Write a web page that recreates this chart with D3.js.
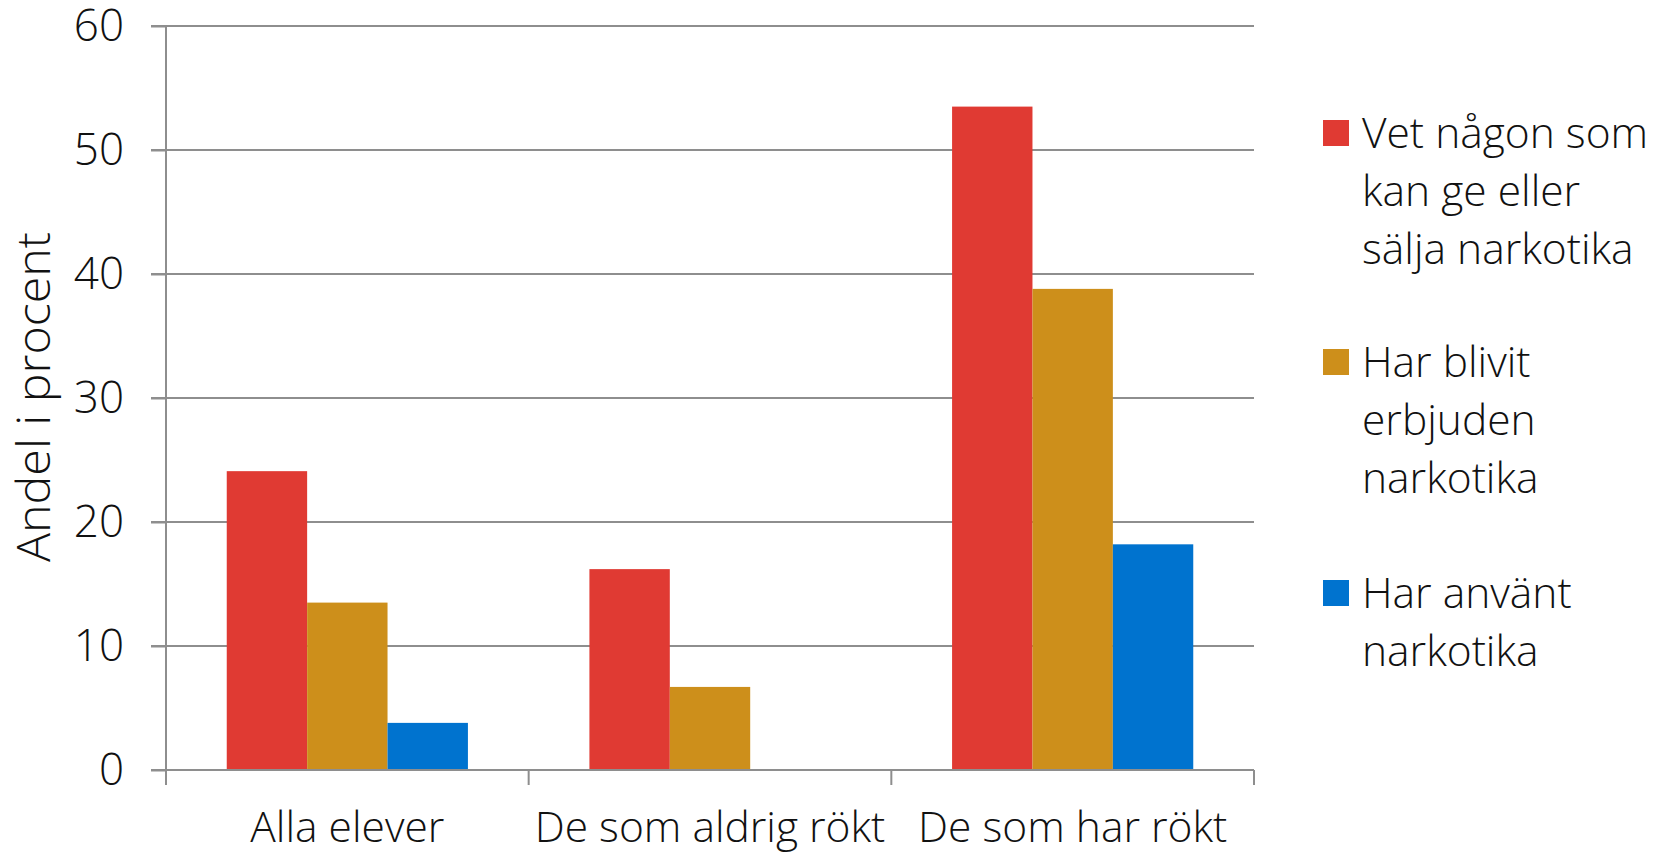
<!DOCTYPE html>
<html>
<head>
<meta charset="utf-8">
<script src="https://cdn.jsdelivr.net/npm/d3@7"></script>
<style>
  html, body { margin: 0; padding: 0; background: #fff; }
  text { font-family: "Open Sans", "Noto Sans", sans-serif; fill: #111; }
</style>
</head>
<body>
<div id="chart"></div>
<script>
// --- Data ---
const categories = ["Alla elever", "De som aldrig rökt", "De som har rökt"];
const seriesNames = [
    ["Vet någon som", "kan ge eller", "sälja narkotika"],
    ["Har blivit", "erbjuden", "narkotika"],
    ["Har använt", "narkotika"]
];
const seriesColors = ["#e03a33", "#cd8f1b", "#0073cf"];
const vetNagon = [24.1, 16.2, 53.5];
const erbjuden = [13.5, 6.7, 38.8];
const anvant = [3.8, null, 18.2];
const yTicks = [0, 10, 20, 30, 40, 50, 60];

const seriesValues = [vetNagon, erbjuden, anvant];

const width = 1656, height = 853;
const margin = { top: 26, right: 402, bottom: 83, left: 166 };
const w = width - margin.left - margin.right;
const h = height - margin.top - margin.bottom;

const svg = d3.select("#chart").append("svg")
    .attr("width", width)
    .attr("height", height);

const g = svg.append("g").attr("transform", `translate(${margin.left},${margin.top})`);

const x0 = d3.scaleBand().domain(categories).range([0, w])
    .paddingInner(0.335).paddingOuter(0.335 / 2);
const x1 = d3.scaleBand().domain(d3.range(seriesValues.length)).range([0, x0.bandwidth()]);
const y = d3.scaleLinear().domain([0, 60]).range([h, 0]);

// gridlines (extend a little left of the axis like the tick marks)
g.append("g")
    .selectAll("line")
    .data(yTicks)
    .join("line")
    .attr("x1", -15)
    .attr("x2", w)
    .attr("y1", d => y(d))
    .attr("y2", d => y(d))
    .attr("stroke", "#8e8e8e")
    .attr("stroke-width", 2);

// y axis labels
const yAxis = g.append("g")
    .call(d3.axisLeft(y).tickValues(yTicks).tickSize(15).tickPadding(27));
yAxis.select(".domain").remove();
yAxis.selectAll(".tick line").attr("stroke", "#8e8e8e").attr("stroke-width", 2);
yAxis.selectAll("text")
    .style("font-size", "44px")
    .style("font-weight", 300)
    .attr("fill", "#111");

// y axis vertical line
g.append("line")
    .attr("x1", 0).attr("x2", 0)
    .attr("y1", 0).attr("y2", h)
    .attr("stroke", "#8e8e8e")
    .attr("stroke-width", 2);

// bars
const groups = g.append("g")
    .selectAll("g")
    .data(categories)
    .join("g")
    .attr("transform", d => `translate(${x0(d)},0)`);

groups.selectAll("rect")
    .data((d, i) => seriesValues.map((vals, s) => ({ s, v: vals[i] })).filter(d => d.v != null))
    .join("rect")
    .attr("x", d => x1(d.s))
    .attr("y", d => y(d.v))
    .attr("width", x1.bandwidth())
    .attr("height", d => h - y(d.v))
    .attr("fill", d => seriesColors[d.s]);

// x axis baseline + category ticks
g.append("line")
    .attr("x1", 0).attr("x2", w)
    .attr("y1", h).attr("y2", h)
    .attr("stroke", "#8e8e8e")
    .attr("stroke-width", 2);

const step = x0.step();
g.append("g")
    .selectAll("line")
    .data(d3.range(categories.length + 1))
    .join("line")
    .attr("x1", i => i * step).attr("x2", i => i * step)
    .attr("y1", h).attr("y2", h + 15)
    .attr("stroke", "#8e8e8e")
    .attr("stroke-width", 2);

g.append("g")
    .selectAll("text")
    .data(categories)
    .join("text")
    .attr("x", d => x0(d) + x0.bandwidth() / 2)
    .attr("y", h + 72)
    .attr("text-anchor", "middle")
    .style("font-size", "42.5px")
    .style("font-weight", 300)
    .text(d => d);

// y axis title
svg.append("text")
    .attr("transform", `translate(50,397) rotate(-90)`)
    .attr("text-anchor", "middle")
    .attr("textLength", 330)
    .attr("lengthAdjust", "spacingAndGlyphs")
    .style("font-size", "46px")
    .style("font-weight", 300)
    .text("Andel i procent");

// legend
const legend = svg.append("g").attr("transform", "translate(1323,0)");
const groupTop = [133, 362, 593];
const lineH = 58;
seriesNames.forEach((lines, s) => {
    const lg = legend.append("g").attr("transform", `translate(0,${groupTop[s]})`);
    lg.append("rect")
        .attr("x", 0).attr("y", -13)
        .attr("width", 26).attr("height", 26)
        .attr("fill", seriesColors[s]);
    lg.selectAll("text")
        .data(lines)
        .join("text")
        .attr("x", 39)
        .attr("y", (d, i) => i * lineH)
        .attr("dy", "0.35em")
        .style("font-size", "42.5px")
        .style("font-weight", 300)
        .text(d => d);
});
</script>
</body>
</html>
